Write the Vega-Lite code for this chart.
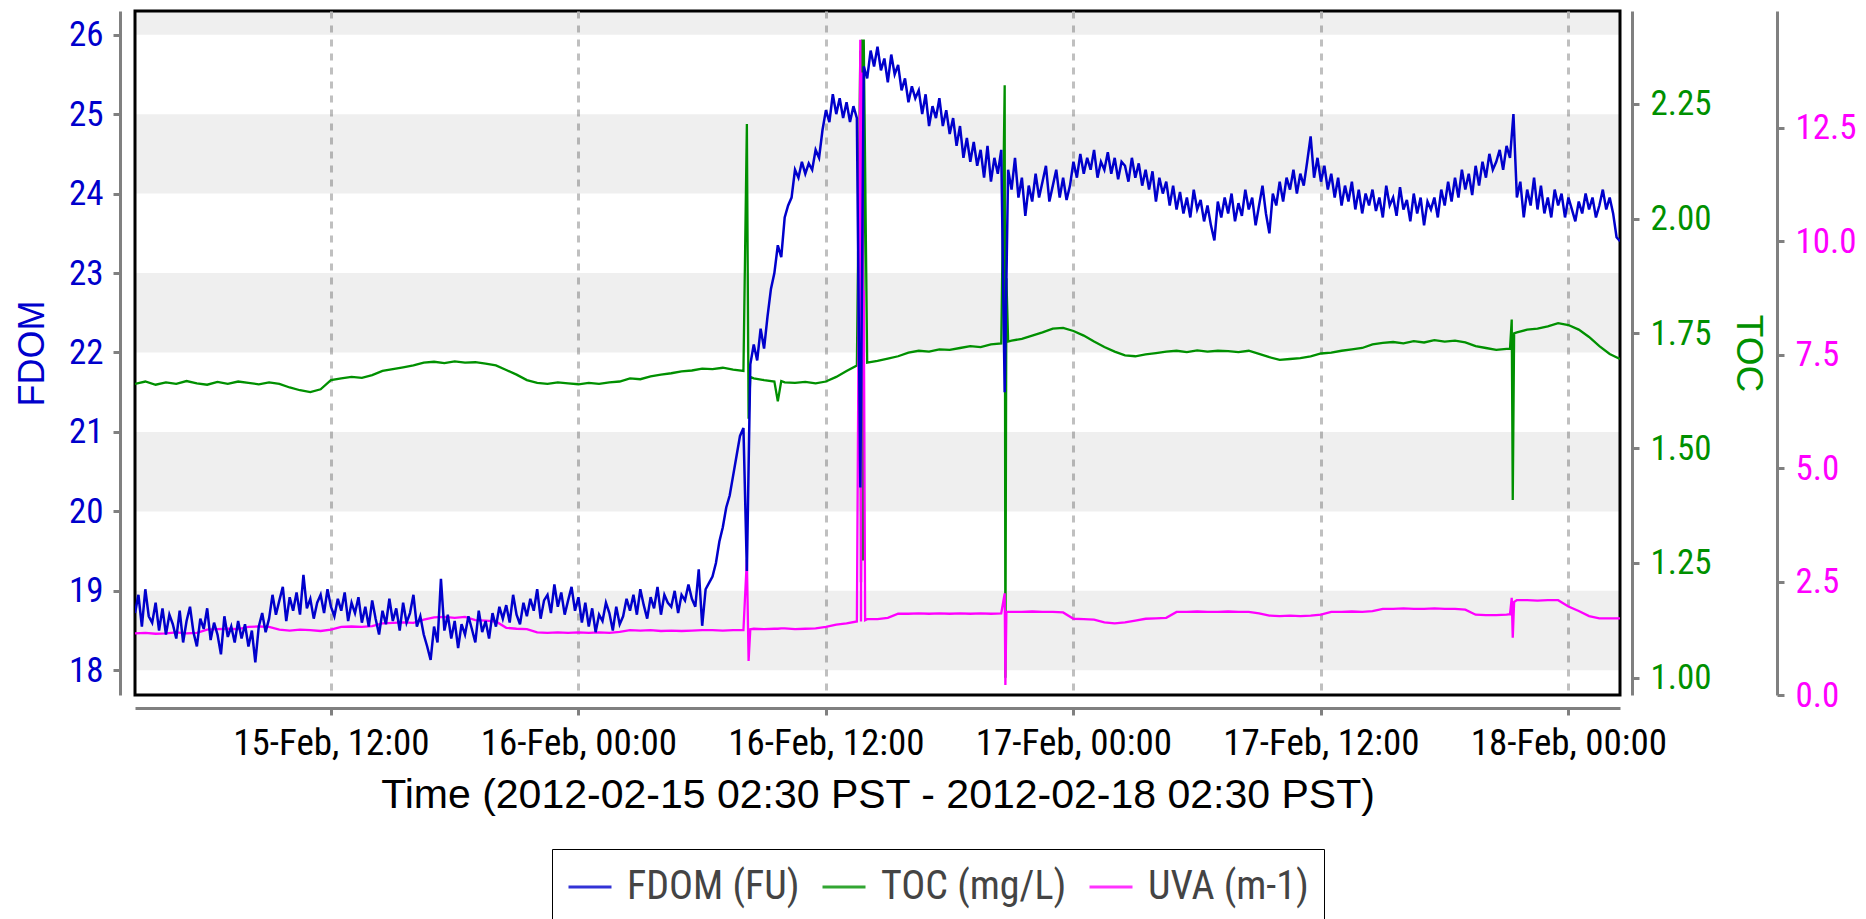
{
  "$schema": "https://vega.github.io/schema/vega-lite/v6.json",
  "width": 1485,
  "height": 684,
  "autosize": {"type": "none"},
  "padding": {"left": 135, "top": 11, "right": 246, "bottom": 224},
  "background": "white",
  "config": {
    "view": {"stroke": "#000000", "strokeWidth": 3},
    "axis": {
      "domainColor": "#808080", "domainWidth": 3,
      "tickColor": "#808080", "tickWidth": 3, "tickSize": 7,
      "labelFont": "Liberation Sans Narrow, Roboto Condensed, DejaVu Sans Condensed, Liberation Sans",
      "titleFont": "Liberation Sans",
      "titleFontWeight": "normal", "grid": false,
      "labelFlush": false, "labelOverlap": false, "labelLimit": 0
    }
  },
  "datasets": {
    "bands": [
      {"v": 18, "v2": 19}, {"v": 20, "v2": 21}, {"v": 22, "v2": 23},
      {"v": 24, "v2": 25}, {"v": 26, "v2": 27}
    ],
    "fdom": [
      {"t":"2012-02-15T02:30","v":18.72},{"t":"2012-02-15T02:40","v":18.95},{"t":"2012-02-15T02:50","v":18.55},{"t":"2012-02-15T03:00","v":19.02},{"t":"2012-02-15T03:10","v":18.68},{"t":"2012-02-15T03:20","v":18.60},
      {"t":"2012-02-15T03:30","v":18.85},{"t":"2012-02-15T03:40","v":18.50},{"t":"2012-02-15T03:50","v":18.78},{"t":"2012-02-15T04:00","v":18.45},{"t":"2012-02-15T04:10","v":18.70},{"t":"2012-02-15T04:20","v":18.58},
      {"t":"2012-02-15T04:30","v":18.40},{"t":"2012-02-15T04:40","v":18.75},{"t":"2012-02-15T04:50","v":18.35},{"t":"2012-02-15T05:00","v":18.62},{"t":"2012-02-15T05:10","v":18.80},{"t":"2012-02-15T05:20","v":18.48},
      {"t":"2012-02-15T05:30","v":18.30},{"t":"2012-02-15T05:40","v":18.65},{"t":"2012-02-15T05:50","v":18.52},{"t":"2012-02-15T06:00","v":18.78},{"t":"2012-02-15T06:10","v":18.38},{"t":"2012-02-15T06:20","v":18.60},
      {"t":"2012-02-15T06:30","v":18.45},{"t":"2012-02-15T06:40","v":18.20},{"t":"2012-02-15T06:50","v":18.68},{"t":"2012-02-15T07:00","v":18.42},{"t":"2012-02-15T07:10","v":18.55},{"t":"2012-02-15T07:20","v":18.35},
      {"t":"2012-02-15T07:30","v":18.62},{"t":"2012-02-15T07:40","v":18.40},{"t":"2012-02-15T07:50","v":18.58},{"t":"2012-02-15T08:00","v":18.30},{"t":"2012-02-15T08:10","v":18.50},{"t":"2012-02-15T08:20","v":18.10},
      {"t":"2012-02-15T08:30","v":18.55},{"t":"2012-02-15T08:40","v":18.72},{"t":"2012-02-15T08:50","v":18.48},{"t":"2012-02-15T09:00","v":18.65},{"t":"2012-02-15T09:10","v":18.95},{"t":"2012-02-15T09:20","v":18.70},
      {"t":"2012-02-15T09:30","v":18.88},{"t":"2012-02-15T09:40","v":19.05},{"t":"2012-02-15T09:50","v":18.62},{"t":"2012-02-15T10:00","v":18.92},{"t":"2012-02-15T10:10","v":18.75},{"t":"2012-02-15T10:20","v":18.98},
      {"t":"2012-02-15T10:30","v":18.70},{"t":"2012-02-15T10:40","v":19.20},{"t":"2012-02-15T10:50","v":18.78},{"t":"2012-02-15T11:00","v":18.90},{"t":"2012-02-15T11:10","v":18.65},{"t":"2012-02-15T11:20","v":18.85},
      {"t":"2012-02-15T11:30","v":18.95},{"t":"2012-02-15T11:40","v":18.72},{"t":"2012-02-15T11:50","v":19.02},{"t":"2012-02-15T12:00","v":18.80},{"t":"2012-02-15T12:10","v":18.68},{"t":"2012-02-15T12:20","v":18.90},
      {"t":"2012-02-15T12:30","v":18.75},{"t":"2012-02-15T12:40","v":18.98},{"t":"2012-02-15T12:50","v":18.62},{"t":"2012-02-15T13:00","v":18.85},{"t":"2012-02-15T13:10","v":18.72},{"t":"2012-02-15T13:20","v":18.92},
      {"t":"2012-02-15T13:30","v":18.60},{"t":"2012-02-15T13:40","v":18.80},{"t":"2012-02-15T13:50","v":18.55},{"t":"2012-02-15T14:00","v":18.88},{"t":"2012-02-15T14:10","v":18.65},{"t":"2012-02-15T14:20","v":18.45},
      {"t":"2012-02-15T14:30","v":18.75},{"t":"2012-02-15T14:40","v":18.58},{"t":"2012-02-15T14:50","v":18.90},{"t":"2012-02-15T15:00","v":18.62},{"t":"2012-02-15T15:10","v":18.78},{"t":"2012-02-15T15:20","v":18.50},
      {"t":"2012-02-15T15:30","v":18.85},{"t":"2012-02-15T15:40","v":18.60},{"t":"2012-02-15T15:50","v":18.72},{"t":"2012-02-15T16:00","v":18.95},{"t":"2012-02-15T16:10","v":18.55},{"t":"2012-02-15T16:20","v":18.68},
      {"t":"2012-02-15T16:30","v":18.45},{"t":"2012-02-15T16:40","v":18.30},{"t":"2012-02-15T16:50","v":18.13},{"t":"2012-02-15T17:00","v":18.55},{"t":"2012-02-15T17:10","v":18.35},{"t":"2012-02-15T17:20","v":19.15},
      {"t":"2012-02-15T17:30","v":18.50},{"t":"2012-02-15T17:40","v":18.70},{"t":"2012-02-15T17:50","v":18.40},{"t":"2012-02-15T18:00","v":18.62},{"t":"2012-02-15T18:10","v":18.28},{"t":"2012-02-15T18:20","v":18.58},
      {"t":"2012-02-15T18:30","v":18.45},{"t":"2012-02-15T18:40","v":18.68},{"t":"2012-02-15T18:50","v":18.52},{"t":"2012-02-15T19:00","v":18.35},{"t":"2012-02-15T19:10","v":18.75},{"t":"2012-02-15T19:20","v":18.48},
      {"t":"2012-02-15T19:30","v":18.62},{"t":"2012-02-15T19:40","v":18.40},{"t":"2012-02-15T19:50","v":18.72},{"t":"2012-02-15T20:00","v":18.55},{"t":"2012-02-15T20:10","v":18.80},{"t":"2012-02-15T20:20","v":18.65},
      {"t":"2012-02-15T20:30","v":18.82},{"t":"2012-02-15T20:40","v":18.60},{"t":"2012-02-15T20:50","v":18.95},{"t":"2012-02-15T21:00","v":18.70},{"t":"2012-02-15T21:10","v":18.58},{"t":"2012-02-15T21:20","v":18.85},
      {"t":"2012-02-15T21:30","v":18.68},{"t":"2012-02-15T21:40","v":18.90},{"t":"2012-02-15T21:50","v":18.75},{"t":"2012-02-15T22:00","v":19.02},{"t":"2012-02-15T22:10","v":18.65},{"t":"2012-02-15T22:20","v":18.88},
      {"t":"2012-02-15T22:30","v":18.95},{"t":"2012-02-15T22:40","v":18.72},{"t":"2012-02-15T22:50","v":19.08},{"t":"2012-02-15T23:00","v":18.80},{"t":"2012-02-15T23:10","v":18.98},{"t":"2012-02-15T23:20","v":18.70},
      {"t":"2012-02-15T23:30","v":18.88},{"t":"2012-02-15T23:40","v":19.05},{"t":"2012-02-15T23:50","v":18.75},{"t":"2012-02-16T00:00","v":18.92},{"t":"2012-02-16T00:10","v":18.60},{"t":"2012-02-16T00:20","v":18.85},
      {"t":"2012-02-16T00:30","v":18.55},{"t":"2012-02-16T00:40","v":18.78},{"t":"2012-02-16T00:50","v":18.48},{"t":"2012-02-16T01:00","v":18.70},{"t":"2012-02-16T01:10","v":18.62},{"t":"2012-02-16T01:20","v":18.85},
      {"t":"2012-02-16T01:30","v":18.72},{"t":"2012-02-16T01:40","v":18.50},{"t":"2012-02-16T01:50","v":18.80},{"t":"2012-02-16T02:00","v":18.58},{"t":"2012-02-16T02:10","v":18.68},{"t":"2012-02-16T02:20","v":18.90},
      {"t":"2012-02-16T02:30","v":18.75},{"t":"2012-02-16T02:40","v":18.95},{"t":"2012-02-16T02:50","v":18.70},{"t":"2012-02-16T03:00","v":19.02},{"t":"2012-02-16T03:10","v":18.82},{"t":"2012-02-16T03:20","v":18.65},
      {"t":"2012-02-16T03:30","v":18.92},{"t":"2012-02-16T03:40","v":18.78},{"t":"2012-02-16T03:50","v":19.05},{"t":"2012-02-16T04:00","v":18.70},{"t":"2012-02-16T04:10","v":18.95},{"t":"2012-02-16T04:20","v":18.85},
      {"t":"2012-02-16T04:30","v":18.80},{"t":"2012-02-16T04:40","v":19.00},{"t":"2012-02-16T04:50","v":18.72},{"t":"2012-02-16T05:00","v":18.95},{"t":"2012-02-16T05:10","v":18.88},{"t":"2012-02-16T05:20","v":19.08},
      {"t":"2012-02-16T05:30","v":18.90},{"t":"2012-02-16T05:40","v":18.80},{"t":"2012-02-16T05:50","v":19.27},{"t":"2012-02-16T06:00","v":18.56},{"t":"2012-02-16T06:10","v":19.02},{"t":"2012-02-16T06:20","v":19.10},
      {"t":"2012-02-16T06:30","v":19.18},{"t":"2012-02-16T06:40","v":19.35},{"t":"2012-02-16T06:50","v":19.62},{"t":"2012-02-16T07:00","v":19.80},{"t":"2012-02-16T07:10","v":20.05},{"t":"2012-02-16T07:20","v":20.20},
      {"t":"2012-02-16T07:30","v":20.45},{"t":"2012-02-16T07:40","v":20.70},{"t":"2012-02-16T07:50","v":20.95},{"t":"2012-02-16T08:00","v":21.05},{"t":"2012-02-16T08:10","v":19.25},{"t":"2012-02-16T08:20","v":21.85},
      {"t":"2012-02-16T08:30","v":22.10},{"t":"2012-02-16T08:40","v":21.90},{"t":"2012-02-16T08:50","v":22.30},{"t":"2012-02-16T09:00","v":22.05},{"t":"2012-02-16T09:10","v":22.45},{"t":"2012-02-16T09:20","v":22.80},
      {"t":"2012-02-16T09:30","v":23.00},{"t":"2012-02-16T09:40","v":23.35},{"t":"2012-02-16T09:50","v":23.20},{"t":"2012-02-16T10:00","v":23.70},{"t":"2012-02-16T10:10","v":23.85},{"t":"2012-02-16T10:20","v":23.95},
      {"t":"2012-02-16T10:30","v":24.30},{"t":"2012-02-16T10:40","v":24.20},{"t":"2012-02-16T10:50","v":24.40},{"t":"2012-02-16T11:00","v":24.25},{"t":"2012-02-16T11:10","v":24.38},{"t":"2012-02-16T11:20","v":24.30},
      {"t":"2012-02-16T11:30","v":24.55},{"t":"2012-02-16T11:40","v":24.45},{"t":"2012-02-16T11:50","v":24.80},{"t":"2012-02-16T12:00","v":25.05},{"t":"2012-02-16T12:10","v":24.90},{"t":"2012-02-16T12:20","v":25.25},
      {"t":"2012-02-16T12:30","v":25.00},{"t":"2012-02-16T12:40","v":25.20},{"t":"2012-02-16T12:50","v":24.95},{"t":"2012-02-16T13:00","v":25.15},{"t":"2012-02-16T13:10","v":24.90},{"t":"2012-02-16T13:20","v":25.10},
      {"t":"2012-02-16T13:30","v":24.95},{"t":"2012-02-16T13:40","v":20.30},{"t":"2012-02-16T13:50","v":25.60},{"t":"2012-02-16T14:00","v":25.45},{"t":"2012-02-16T14:10","v":25.80},{"t":"2012-02-16T14:20","v":25.60},
      {"t":"2012-02-16T14:30","v":25.85},{"t":"2012-02-16T14:40","v":25.55},{"t":"2012-02-16T14:50","v":25.70},{"t":"2012-02-16T15:00","v":25.40},{"t":"2012-02-16T15:10","v":25.75},{"t":"2012-02-16T15:20","v":25.50},
      {"t":"2012-02-16T15:30","v":25.62},{"t":"2012-02-16T15:40","v":25.30},{"t":"2012-02-16T15:50","v":25.45},{"t":"2012-02-16T16:00","v":25.15},{"t":"2012-02-16T16:10","v":25.35},{"t":"2012-02-16T16:20","v":25.20},
      {"t":"2012-02-16T16:30","v":25.30},{"t":"2012-02-16T16:40","v":25.00},{"t":"2012-02-16T16:50","v":25.25},{"t":"2012-02-16T17:00","v":24.85},{"t":"2012-02-16T17:10","v":25.10},{"t":"2012-02-16T17:20","v":24.95},
      {"t":"2012-02-16T17:30","v":25.20},{"t":"2012-02-16T17:40","v":24.85},{"t":"2012-02-16T17:50","v":25.05},{"t":"2012-02-16T18:00","v":24.75},{"t":"2012-02-16T18:10","v":24.95},{"t":"2012-02-16T18:20","v":24.60},
      {"t":"2012-02-16T18:30","v":24.85},{"t":"2012-02-16T18:40","v":24.45},{"t":"2012-02-16T18:50","v":24.70},{"t":"2012-02-16T19:00","v":24.40},{"t":"2012-02-16T19:10","v":24.65},{"t":"2012-02-16T19:20","v":24.35},
      {"t":"2012-02-16T19:30","v":24.55},{"t":"2012-02-16T19:40","v":24.20},{"t":"2012-02-16T19:50","v":24.60},{"t":"2012-02-16T20:00","v":24.15},{"t":"2012-02-16T20:10","v":24.45},{"t":"2012-02-16T20:20","v":24.25},
      {"t":"2012-02-16T20:30","v":24.55},{"t":"2012-02-16T20:40","v":21.50},{"t":"2012-02-16T20:50","v":24.30},{"t":"2012-02-16T21:00","v":24.05},{"t":"2012-02-16T21:10","v":24.45},{"t":"2012-02-16T21:20","v":23.95},
      {"t":"2012-02-16T21:30","v":24.20},{"t":"2012-02-16T21:40","v":23.72},{"t":"2012-02-16T21:50","v":24.10},{"t":"2012-02-16T22:00","v":23.90},{"t":"2012-02-16T22:10","v":24.25},{"t":"2012-02-16T22:20","v":23.95},
      {"t":"2012-02-16T22:30","v":24.15},{"t":"2012-02-16T22:40","v":24.35},{"t":"2012-02-16T22:50","v":23.90},{"t":"2012-02-16T23:00","v":24.10},{"t":"2012-02-16T23:10","v":24.30},{"t":"2012-02-16T23:20","v":23.95},
      {"t":"2012-02-16T23:30","v":24.20},{"t":"2012-02-16T23:40","v":23.92},{"t":"2012-02-16T23:50","v":24.10},{"t":"2012-02-17T00:00","v":24.40},{"t":"2012-02-17T00:10","v":24.20},{"t":"2012-02-17T00:20","v":24.50},
      {"t":"2012-02-17T00:30","v":24.25},{"t":"2012-02-17T00:40","v":24.45},{"t":"2012-02-17T00:50","v":24.30},{"t":"2012-02-17T01:00","v":24.55},{"t":"2012-02-17T01:10","v":24.20},{"t":"2012-02-17T01:20","v":24.40},
      {"t":"2012-02-17T01:30","v":24.30},{"t":"2012-02-17T01:40","v":24.52},{"t":"2012-02-17T01:50","v":24.25},{"t":"2012-02-17T02:00","v":24.45},{"t":"2012-02-17T02:10","v":24.18},{"t":"2012-02-17T02:20","v":24.40},
      {"t":"2012-02-17T02:30","v":24.35},{"t":"2012-02-17T02:40","v":24.15},{"t":"2012-02-17T02:50","v":24.45},{"t":"2012-02-17T03:00","v":24.20},{"t":"2012-02-17T03:10","v":24.38},{"t":"2012-02-17T03:20","v":24.10},
      {"t":"2012-02-17T03:30","v":24.30},{"t":"2012-02-17T03:40","v":24.05},{"t":"2012-02-17T03:50","v":24.28},{"t":"2012-02-17T04:00","v":23.90},{"t":"2012-02-17T04:10","v":24.20},{"t":"2012-02-17T04:20","v":24.00},
      {"t":"2012-02-17T04:30","v":24.15},{"t":"2012-02-17T04:40","v":23.85},{"t":"2012-02-17T04:50","v":24.10},{"t":"2012-02-17T05:00","v":23.80},{"t":"2012-02-17T05:10","v":24.02},{"t":"2012-02-17T05:20","v":23.75},
      {"t":"2012-02-17T05:30","v":23.95},{"t":"2012-02-17T05:40","v":23.70},{"t":"2012-02-17T05:50","v":24.05},{"t":"2012-02-17T06:00","v":23.80},{"t":"2012-02-17T06:10","v":23.92},{"t":"2012-02-17T06:20","v":23.65},
      {"t":"2012-02-17T06:30","v":23.85},{"t":"2012-02-17T06:40","v":23.60},{"t":"2012-02-17T06:50","v":23.41},{"t":"2012-02-17T07:00","v":23.90},{"t":"2012-02-17T07:10","v":23.70},{"t":"2012-02-17T07:20","v":23.95},
      {"t":"2012-02-17T07:30","v":23.75},{"t":"2012-02-17T07:40","v":24.00},{"t":"2012-02-17T07:50","v":23.65},{"t":"2012-02-17T08:00","v":23.88},{"t":"2012-02-17T08:10","v":23.72},{"t":"2012-02-17T08:20","v":24.05},
      {"t":"2012-02-17T08:30","v":23.80},{"t":"2012-02-17T08:40","v":23.95},{"t":"2012-02-17T08:50","v":23.60},{"t":"2012-02-17T09:00","v":23.85},{"t":"2012-02-17T09:10","v":24.10},{"t":"2012-02-17T09:20","v":23.75},
      {"t":"2012-02-17T09:30","v":23.50},{"t":"2012-02-17T09:40","v":24.00},{"t":"2012-02-17T09:50","v":23.85},{"t":"2012-02-17T10:00","v":24.15},{"t":"2012-02-17T10:10","v":23.90},{"t":"2012-02-17T10:20","v":24.20},
      {"t":"2012-02-17T10:30","v":24.05},{"t":"2012-02-17T10:40","v":24.30},{"t":"2012-02-17T10:50","v":24.00},{"t":"2012-02-17T11:00","v":24.25},{"t":"2012-02-17T11:10","v":24.10},{"t":"2012-02-17T11:20","v":24.40},
      {"t":"2012-02-17T11:30","v":24.72},{"t":"2012-02-17T11:40","v":24.20},{"t":"2012-02-17T11:50","v":24.45},{"t":"2012-02-17T12:00","v":24.15},{"t":"2012-02-17T12:10","v":24.35},{"t":"2012-02-17T12:20","v":24.05},
      {"t":"2012-02-17T12:30","v":24.25},{"t":"2012-02-17T12:40","v":23.95},{"t":"2012-02-17T12:50","v":24.20},{"t":"2012-02-17T13:00","v":23.85},{"t":"2012-02-17T13:10","v":24.10},{"t":"2012-02-17T13:20","v":23.90},
      {"t":"2012-02-17T13:30","v":24.15},{"t":"2012-02-17T13:40","v":23.80},{"t":"2012-02-17T13:50","v":24.05},{"t":"2012-02-17T14:00","v":23.75},{"t":"2012-02-17T14:10","v":24.00},{"t":"2012-02-17T14:20","v":23.85},
      {"t":"2012-02-17T14:30","v":24.05},{"t":"2012-02-17T14:40","v":23.78},{"t":"2012-02-17T14:50","v":23.95},{"t":"2012-02-17T15:00","v":23.70},{"t":"2012-02-17T15:10","v":24.10},{"t":"2012-02-17T15:20","v":23.85},
      {"t":"2012-02-17T15:30","v":23.95},{"t":"2012-02-17T15:40","v":23.72},{"t":"2012-02-17T15:50","v":24.08},{"t":"2012-02-17T16:00","v":23.80},{"t":"2012-02-17T16:10","v":23.92},{"t":"2012-02-17T16:20","v":23.65},
      {"t":"2012-02-17T16:30","v":24.00},{"t":"2012-02-17T16:40","v":23.75},{"t":"2012-02-17T16:50","v":23.95},{"t":"2012-02-17T17:00","v":23.60},{"t":"2012-02-17T17:10","v":23.90},{"t":"2012-02-17T17:20","v":23.80},
      {"t":"2012-02-17T17:30","v":23.95},{"t":"2012-02-17T17:40","v":23.70},{"t":"2012-02-17T17:50","v":24.05},{"t":"2012-02-17T18:00","v":23.85},{"t":"2012-02-17T18:10","v":24.15},{"t":"2012-02-17T18:20","v":23.90},
      {"t":"2012-02-17T18:30","v":24.20},{"t":"2012-02-17T18:40","v":23.95},{"t":"2012-02-17T18:50","v":24.30},{"t":"2012-02-17T19:00","v":24.05},{"t":"2012-02-17T19:10","v":24.25},{"t":"2012-02-17T19:20","v":23.98},
      {"t":"2012-02-17T19:30","v":24.35},{"t":"2012-02-17T19:40","v":24.10},{"t":"2012-02-17T19:50","v":24.40},{"t":"2012-02-17T20:00","v":24.20},{"t":"2012-02-17T20:10","v":24.50},{"t":"2012-02-17T20:20","v":24.30},
      {"t":"2012-02-17T20:30","v":24.40},{"t":"2012-02-17T20:40","v":24.55},{"t":"2012-02-17T20:50","v":24.30},{"t":"2012-02-17T21:00","v":24.60},{"t":"2012-02-17T21:10","v":24.45},{"t":"2012-02-17T21:20","v":25.00},
      {"t":"2012-02-17T21:30","v":23.95},{"t":"2012-02-17T21:40","v":24.15},{"t":"2012-02-17T21:50","v":23.70},{"t":"2012-02-17T22:00","v":24.05},{"t":"2012-02-17T22:10","v":23.85},{"t":"2012-02-17T22:20","v":24.20},
      {"t":"2012-02-17T22:30","v":23.80},{"t":"2012-02-17T22:40","v":24.10},{"t":"2012-02-17T22:50","v":23.75},{"t":"2012-02-17T23:00","v":23.95},{"t":"2012-02-17T23:10","v":23.70},{"t":"2012-02-17T23:20","v":24.05},
      {"t":"2012-02-17T23:30","v":23.85},{"t":"2012-02-17T23:40","v":24.00},{"t":"2012-02-17T23:50","v":23.70},{"t":"2012-02-18T00:00","v":23.95},{"t":"2012-02-18T00:10","v":23.80},{"t":"2012-02-18T00:20","v":23.65},
      {"t":"2012-02-18T00:30","v":23.90},{"t":"2012-02-18T00:40","v":23.75},{"t":"2012-02-18T00:50","v":24.00},{"t":"2012-02-18T01:00","v":23.80},{"t":"2012-02-18T01:10","v":23.95},{"t":"2012-02-18T01:20","v":23.70},
      {"t":"2012-02-18T01:30","v":23.85},{"t":"2012-02-18T01:40","v":24.05},{"t":"2012-02-18T01:50","v":23.80},{"t":"2012-02-18T02:00","v":23.95},{"t":"2012-02-18T02:10","v":23.75},{"t":"2012-02-18T02:20","v":23.45},
      {"t":"2012-02-18T02:30","v":23.40}
    ],
    "wq": [
      {"t":"2012-02-15T02:30","c":1.640,"u":1.36},{"t":"2012-02-15T03:00","c":1.645,"u":1.37},{"t":"2012-02-15T03:30","c":1.638,"u":1.35},{"t":"2012-02-15T04:00","c":1.643,"u":1.36},
      {"t":"2012-02-15T04:30","c":1.640,"u":1.38},{"t":"2012-02-15T05:00","c":1.646,"u":1.36},{"t":"2012-02-15T05:30","c":1.641,"u":1.37},{"t":"2012-02-15T06:00","c":1.638,"u":1.44},
      {"t":"2012-02-15T06:30","c":1.644,"u":1.45},{"t":"2012-02-15T07:00","c":1.640,"u":1.46},{"t":"2012-02-15T07:30","c":1.645,"u":1.45},{"t":"2012-02-15T08:00","c":1.642,"u":1.50},
      {"t":"2012-02-15T08:30","c":1.639,"u":1.51},{"t":"2012-02-15T09:00","c":1.643,"u":1.50},{"t":"2012-02-15T09:30","c":1.640,"u":1.44},{"t":"2012-02-15T10:00","c":1.632,"u":1.42},
      {"t":"2012-02-15T10:30","c":1.626,"u":1.44},{"t":"2012-02-15T11:00","c":1.622,"u":1.43},{"t":"2012-02-15T11:30","c":1.628,"u":1.41},{"t":"2012-02-15T12:00","c":1.648,"u":1.44},
      {"t":"2012-02-15T12:30","c":1.652,"u":1.50},{"t":"2012-02-15T13:00","c":1.655,"u":1.51},{"t":"2012-02-15T13:30","c":1.653,"u":1.50},{"t":"2012-02-15T14:00","c":1.659,"u":1.52},
      {"t":"2012-02-15T14:30","c":1.668,"u":1.58},{"t":"2012-02-15T15:00","c":1.672,"u":1.59},{"t":"2012-02-15T15:30","c":1.676,"u":1.60},{"t":"2012-02-15T16:00","c":1.680,"u":1.59},
      {"t":"2012-02-15T16:30","c":1.686,"u":1.66},{"t":"2012-02-15T17:00","c":1.688,"u":1.71},{"t":"2012-02-15T17:30","c":1.685,"u":1.72},{"t":"2012-02-15T18:00","c":1.689,"u":1.70},
      {"t":"2012-02-15T18:30","c":1.686,"u":1.72},{"t":"2012-02-15T19:00","c":1.687,"u":1.65},{"t":"2012-02-15T19:30","c":1.684,"u":1.64},{"t":"2012-02-15T20:00","c":1.680,"u":1.62},
      {"t":"2012-02-15T20:30","c":1.670,"u":1.48},{"t":"2012-02-15T21:00","c":1.660,"u":1.46},{"t":"2012-02-15T21:30","c":1.648,"u":1.45},{"t":"2012-02-15T22:00","c":1.642,"u":1.38},
      {"t":"2012-02-15T22:30","c":1.640,"u":1.37},{"t":"2012-02-15T23:00","c":1.643,"u":1.38},{"t":"2012-02-15T23:30","c":1.641,"u":1.37},{"t":"2012-02-16T00:00","c":1.639,"u":1.38},
      {"t":"2012-02-16T00:30","c":1.642,"u":1.37},{"t":"2012-02-16T01:00","c":1.640,"u":1.38},{"t":"2012-02-16T01:30","c":1.643,"u":1.37},{"t":"2012-02-16T02:00","c":1.645,"u":1.39},
      {"t":"2012-02-16T02:30","c":1.652,"u":1.43},{"t":"2012-02-16T03:00","c":1.650,"u":1.42},{"t":"2012-02-16T03:30","c":1.656,"u":1.43},{"t":"2012-02-16T04:00","c":1.660,"u":1.41},
      {"t":"2012-02-16T04:30","c":1.663,"u":1.42},{"t":"2012-02-16T05:00","c":1.667,"u":1.41},{"t":"2012-02-16T05:30","c":1.669,"u":1.42},{"t":"2012-02-16T06:00","c":1.673,"u":1.43},
      {"t":"2012-02-16T06:30","c":1.672,"u":1.43},{"t":"2012-02-16T07:00","c":1.675,"u":1.42},{"t":"2012-02-16T07:30","c":1.671,"u":1.43},{"t":"2012-02-16T08:00","c":1.668,"u":1.43},
      {"t":"2012-02-16T08:10","c":2.206,"u":2.99},{"t":"2012-02-16T08:15","c":1.564,"u":0.75},{"t":"2012-02-16T08:20","c":1.655,"u":1.45},
      {"t":"2012-02-16T08:30","c":1.652,"u":1.46},{"t":"2012-02-16T09:00","c":1.648,"u":1.45},{"t":"2012-02-16T09:30","c":1.645,"u":1.46},{"t":"2012-02-16T09:40","c":1.602,"u":1.46},
      {"t":"2012-02-16T09:50","c":1.646,"u":1.47},{"t":"2012-02-16T10:00","c":1.643,"u":1.47},{"t":"2012-02-16T10:30","c":1.642,"u":1.45},{"t":"2012-02-16T11:00","c":1.644,"u":1.46},
      {"t":"2012-02-16T11:30","c":1.641,"u":1.47},{"t":"2012-02-16T12:00","c":1.645,"u":1.50},{"t":"2012-02-16T12:30","c":1.655,"u":1.55},{"t":"2012-02-16T13:00","c":1.668,"u":1.58},
      {"t":"2012-02-16T13:30","c":1.680,"u":1.62},
      {"t":"2012-02-16T13:40","c":2.366,"u":14.44},{"t":"2012-02-16T13:42","c":1.208,"u":1.62},{"t":"2012-02-16T13:45","c":2.390,"u":13.72},{"t":"2012-02-16T13:48","c":1.255,"u":7.38},
      {"t":"2012-02-16T13:50","c":2.390,"u":8.92},{"t":"2012-02-16T13:54","c":2.110,"u":1.65},
      {"t":"2012-02-16T14:00","c":1.686,"u":1.67},{"t":"2012-02-16T14:30","c":1.690,"u":1.67},{"t":"2012-02-16T15:00","c":1.695,"u":1.70},{"t":"2012-02-16T15:30","c":1.700,"u":1.79},
      {"t":"2012-02-16T16:00","c":1.708,"u":1.79},{"t":"2012-02-16T16:30","c":1.712,"u":1.80},{"t":"2012-02-16T17:00","c":1.710,"u":1.79},{"t":"2012-02-16T17:30","c":1.715,"u":1.80},
      {"t":"2012-02-16T18:00","c":1.714,"u":1.79},{"t":"2012-02-16T18:30","c":1.718,"u":1.80},{"t":"2012-02-16T19:00","c":1.722,"u":1.79},{"t":"2012-02-16T19:30","c":1.720,"u":1.80},
      {"t":"2012-02-16T20:00","c":1.726,"u":1.79},{"t":"2012-02-16T20:30","c":1.728,"u":1.80},
      {"t":"2012-02-16T20:40","c":2.290,"u":2.24},{"t":"2012-02-16T20:42","c":1.000,"u":0.22},{"t":"2012-02-16T20:45","c":1.870,"u":1.83},{"t":"2012-02-16T20:50","c":1.732,"u":1.83},
      {"t":"2012-02-16T21:00","c":1.734,"u":1.83},{"t":"2012-02-16T21:30","c":1.738,"u":1.83},{"t":"2012-02-16T22:00","c":1.745,"u":1.84},{"t":"2012-02-16T22:30","c":1.752,"u":1.83},
      {"t":"2012-02-16T23:00","c":1.760,"u":1.83},{"t":"2012-02-16T23:30","c":1.762,"u":1.82},{"t":"2012-02-17T00:00","c":1.755,"u":1.68},{"t":"2012-02-17T00:30","c":1.745,"u":1.67},
      {"t":"2012-02-17T01:00","c":1.732,"u":1.66},{"t":"2012-02-17T01:30","c":1.720,"u":1.60},{"t":"2012-02-17T02:00","c":1.710,"u":1.58},{"t":"2012-02-17T02:30","c":1.702,"u":1.60},
      {"t":"2012-02-17T03:00","c":1.700,"u":1.64},{"t":"2012-02-17T03:30","c":1.704,"u":1.68},{"t":"2012-02-17T04:00","c":1.707,"u":1.69},{"t":"2012-02-17T04:30","c":1.710,"u":1.70},
      {"t":"2012-02-17T05:00","c":1.712,"u":1.83},{"t":"2012-02-17T05:30","c":1.709,"u":1.83},{"t":"2012-02-17T06:00","c":1.713,"u":1.84},{"t":"2012-02-17T06:30","c":1.710,"u":1.83},
      {"t":"2012-02-17T07:00","c":1.712,"u":1.83},{"t":"2012-02-17T07:30","c":1.711,"u":1.84},{"t":"2012-02-17T08:00","c":1.709,"u":1.83},{"t":"2012-02-17T08:30","c":1.712,"u":1.83},
      {"t":"2012-02-17T09:00","c":1.705,"u":1.80},{"t":"2012-02-17T09:30","c":1.698,"u":1.75},{"t":"2012-02-17T10:00","c":1.692,"u":1.74},{"t":"2012-02-17T10:30","c":1.694,"u":1.75},
      {"t":"2012-02-17T11:00","c":1.696,"u":1.74},{"t":"2012-02-17T11:30","c":1.700,"u":1.75},{"t":"2012-02-17T12:00","c":1.706,"u":1.77},{"t":"2012-02-17T12:30","c":1.708,"u":1.83},
      {"t":"2012-02-17T13:00","c":1.712,"u":1.83},{"t":"2012-02-17T13:30","c":1.715,"u":1.84},{"t":"2012-02-17T14:00","c":1.718,"u":1.83},{"t":"2012-02-17T14:30","c":1.726,"u":1.85},
      {"t":"2012-02-17T15:00","c":1.729,"u":1.90},{"t":"2012-02-17T15:30","c":1.731,"u":1.90},{"t":"2012-02-17T16:00","c":1.728,"u":1.91},{"t":"2012-02-17T16:30","c":1.733,"u":1.90},
      {"t":"2012-02-17T17:00","c":1.730,"u":1.90},{"t":"2012-02-17T17:30","c":1.735,"u":1.91},{"t":"2012-02-17T18:00","c":1.732,"u":1.90},{"t":"2012-02-17T18:30","c":1.734,"u":1.90},
      {"t":"2012-02-17T19:00","c":1.730,"u":1.88},{"t":"2012-02-17T19:30","c":1.722,"u":1.77},{"t":"2012-02-17T20:00","c":1.718,"u":1.76},{"t":"2012-02-17T20:30","c":1.714,"u":1.76},
      {"t":"2012-02-17T21:00","c":1.716,"u":1.77},{"t":"2012-02-17T21:10","c":1.716,"u":1.78},
      {"t":"2012-02-17T21:15","c":1.780,"u":2.14},{"t":"2012-02-17T21:18","c":1.387,"u":1.26},{"t":"2012-02-17T21:22","c":1.750,"u":2.05},
      {"t":"2012-02-17T21:30","c":1.752,"u":2.09},{"t":"2012-02-17T22:00","c":1.758,"u":2.09},{"t":"2012-02-17T22:30","c":1.760,"u":2.08},{"t":"2012-02-17T23:00","c":1.765,"u":2.09},
      {"t":"2012-02-17T23:30","c":1.772,"u":2.09},{"t":"2012-02-18T00:00","c":1.768,"u":1.95},{"t":"2012-02-18T00:30","c":1.758,"u":1.85},{"t":"2012-02-18T01:00","c":1.742,"u":1.74},
      {"t":"2012-02-18T01:30","c":1.722,"u":1.69},{"t":"2012-02-18T02:00","c":1.705,"u":1.69},{"t":"2012-02-18T02:30","c":1.694,"u":1.69}
    ]
  },
  "layer": [
    {
      "data": {"name": "bands"},
      "mark": {"type": "rect", "color": "#000000", "opacity": 0.063, "clip": true},
      "encoding": {
        "x": {"value": 0},
        "x2": {"value": "width"},
        "y": {"field": "v", "type": "quantitative", "scale": {"domain": [17.689, 26.298], "nice": false, "zero": false}, "axis": null},
        "y2": {"field": "v2"}
      }
    },
    {
      "data": {"name": "wq"},
      "mark": {"type": "line", "strokeWidth": 2.3, "clip": true},
      "encoding": {
        "x": {"field": "t", "type": "temporal",
              "scale": {"domain": [{"year": 2012, "month": 2, "date": 15, "hours": 2, "minutes": 30}, {"year": 2012, "month": 2, "date": 18, "hours": 2, "minutes": 30}], "nice": false}},
        "y": {"field": "c", "type": "quantitative",
              "scale": {"domain": [0.9623, 2.4519], "nice": false, "zero": false},
              "axis": {"title": "TOC", "orient": "right", "offset": 12, "values": [1, 1.25, 1.5, 1.75, 2, 2.25], "format": ".2f",
                       "labelFontSize": 35, "labelColor": "#009000", "labelPadding": 11,
                       "titleFontSize": 37, "titleColor": "#009000", "titlePadding": 17}},
        "color": {"datum": "TOC (mg/L)"}
      }
    },
    {
      "data": {"name": "wq"},
      "mark": {"type": "line", "strokeWidth": 2.3, "clip": true},
      "encoding": {
        "x": {"field": "t", "type": "temporal",
              "scale": {"domain": [{"year": 2012, "month": 2, "date": 15, "hours": 2, "minutes": 30}, {"year": 2012, "month": 2, "date": 18, "hours": 2, "minutes": 30}], "nice": false}},
        "y": {"field": "u", "type": "quantitative",
              "scale": {"domain": [0, 15.073], "nice": false, "zero": false},
              "axis": {"title": null, "orient": "right", "offset": 157, "values": [0, 2.5, 5, 7.5, 10, 12.5], "format": ".1f",
                       "labelFontSize": 35, "labelColor": "#ff00ff", "labelPadding": 11}},
        "color": {"datum": "UVA (m-1)"}
      }
    },
    {
      "data": {"name": "fdom"},
      "mark": {"type": "line", "strokeWidth": 2.5, "clip": true},
      "encoding": {
        "x": {"field": "t", "type": "temporal",
              "scale": {"domain": [{"year": 2012, "month": 2, "date": 15, "hours": 2, "minutes": 30}, {"year": 2012, "month": 2, "date": 18, "hours": 2, "minutes": 30}], "nice": false},
              "axis": {"title": "Time (2012-02-15 02:30 PST - 2012-02-18 02:30 PST)", "orient": "bottom", "offset": 13,
                       "format": "%d-%b, %H:%M",
                       "values": [
                         {"year": 2012, "month": 2, "date": 15, "hours": 12},
                         {"year": 2012, "month": 2, "date": 16, "hours": 0},
                         {"year": 2012, "month": 2, "date": 16, "hours": 12},
                         {"year": 2012, "month": 2, "date": 17, "hours": 0},
                         {"year": 2012, "month": 2, "date": 17, "hours": 12},
                         {"year": 2012, "month": 2, "date": 18, "hours": 0}
                       ],
                       "grid": true, "gridColor": "#c0c0c0", "gridWidth": 3, "gridDash": [7, 7],
                       "labelFontSize": 37, "labelColor": "#000000", "labelPadding": 10,
                       "titleFontSize": 41, "titleColor": "#000000", "titlePadding": 14}},
        "y": {"field": "v", "type": "quantitative",
              "scale": {"domain": [17.689, 26.298], "nice": false, "zero": false},
              "axis": {"title": "FDOM", "orient": "left", "offset": 15, "values": [18, 19, 20, 21, 22, 23, 24, 25, 26],
                       "labelFontSize": 35, "labelColor": "#0000cc", "labelPadding": 10,
                       "titleFontSize": 36, "titleColor": "#0000cc", "titlePadding": 17}},
        "color": {"datum": "FDOM (FU)",
                  "scale": {"domain": ["FDOM (FU)", "TOC (mg/L)", "UVA (m-1)"], "range": ["#0000cc", "#009000", "#ff00ff"]},
                  "legend": {"orient": "none", "legendX": 417, "legendY": 838, "direction": "horizontal", "title": null,
                             "symbolType": "stroke", "symbolSize": 1849, "symbolStrokeWidth": 3, "symbolOpacity": 0.8,
                             "labelFont": "Liberation Sans Narrow, Roboto Condensed, DejaVu Sans Condensed, Liberation Sans",
                             "labelFontSize": 40, "labelColor": "#444444",
                             "labelOffset": 14, "columnPadding": 16, "padding": 15, "labelLimit": 0,
                             "strokeColor": "#000000", "fillColor": "#ffffff"}}
      }
    }
  ],
  "resolve": {"scale": {"y": "independent"}}
}
